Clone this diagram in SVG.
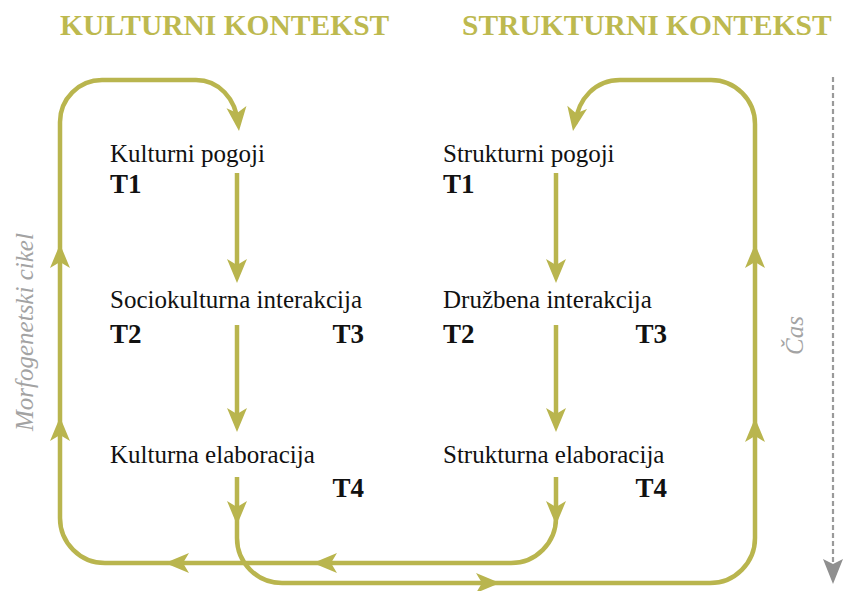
<svg xmlns="http://www.w3.org/2000/svg" xmlns:xlink="http://www.w3.org/1999/xlink" width="843" height="591" viewBox="0 0 843 591">
<style>
.ln{fill:none;stroke:#b9b54e;stroke-width:4.5}
.ah{fill:#b9b54e}
text{font-family:'Liberation Serif',serif}
.hd{font-weight:bold;font-size:29.5px;fill:#bdb94f}
.lb{font-size:25px;fill:#111}
.tt{font-weight:bold;font-size:27px;fill:#111}
.rot{font-style:italic;font-size:25px;fill:#a3a3a3}
</style>
<defs>
<path id="ah" d="M0,0 L-24,-10 L-18,0 L-24,10 Z"/>
</defs>
<rect width="843" height="591" fill="#fff"/>
<g id="headers">
<text class="hd" x="60" y="35">KULTURNI KONTEKST</text>
<text class="hd" x="462" y="35">STRUKTURNI KONTEKST</text>
</g>
<g id="connectors">
<path class="ln" d="M556,477 V518 A45,45 0 0 1 511,563 H105 A45,45 0 0 1 60,518 V122 A42,42 0 0 1 102,80 H196 C218,80 236,98 238,124"/>
<path class="ln" d="M237,477 V538 A45,45 0 0 0 282,583 H710 A45,45 0 0 0 755,538 V124 A44,44 0 0 0 711,80 H620 C596,80 578,98 575,124"/>
<path class="ln" d="M237,173 V268"/>
<path class="ln" d="M237,325 V418"/>
<path class="ln" d="M556,173 V268"/>
<path class="ln" d="M556,325 V418"/>
<g class="ah">
<use xlink:href="#ah" transform="translate(237,283) rotate(90)"/>
<use xlink:href="#ah" transform="translate(237,432) rotate(90)"/>
<use xlink:href="#ah" transform="translate(556,283) rotate(90)"/>
<use xlink:href="#ah" transform="translate(556,432) rotate(90)"/>
<use xlink:href="#ah" transform="translate(237,525) rotate(90)"/>
<use xlink:href="#ah" transform="translate(556,525) rotate(90)"/>
<use xlink:href="#ah" transform="translate(313,563) rotate(180)"/>
<use xlink:href="#ah" transform="translate(165,563) rotate(180)"/>
<use xlink:href="#ah" transform="translate(500,583)"/>
<use xlink:href="#ah" transform="translate(60,244) rotate(-90)"/>
<use xlink:href="#ah" transform="translate(60,417) rotate(-90)"/>
<use xlink:href="#ah" transform="translate(755,244) rotate(-90)"/>
<use xlink:href="#ah" transform="translate(755,418) rotate(-90)"/>
<use xlink:href="#ah" transform="translate(239,131) rotate(84)"/>
<use xlink:href="#ah" transform="translate(573,131) rotate(100)"/>
</g>
</g>
<g id="kulturni-pogoji">
<text class="lb" x="110" y="162">Kulturni pogoji</text>
<text class="tt" x="110" y="193">T1</text>
</g>
<g id="sociokulturna-interakcija">
<text class="lb" x="110" y="308">Sociokulturna interakcija</text>
<text class="tt" x="110" y="343">T2</text>
<text class="tt" x="364" y="343" text-anchor="end">T3</text>
</g>
<g id="kulturna-elaboracija">
<text class="lb" x="110" y="463">Kulturna elaboracija</text>
<text class="tt" x="364" y="497" text-anchor="end">T4</text>
</g>
<g id="strukturni-pogoji">
<text class="lb" x="443" y="162">Strukturni pogoji</text>
<text class="tt" x="443" y="193">T1</text>
</g>
<g id="druzbena-interakcija">
<text class="lb" x="443" y="308">Družbena interakcija</text>
<text class="tt" x="443" y="343">T2</text>
<text class="tt" x="667" y="343" text-anchor="end">T3</text>
</g>
<g id="strukturna-elaboracija">
<text class="lb" x="443" y="463">Strukturna elaboracija</text>
<text class="tt" x="667" y="497" text-anchor="end">T4</text>
</g>
<g id="morfogenetski-cikel">
<text class="rot" transform="translate(33,431) rotate(-90)">Morfogenetski cikel</text>
</g>
<g id="cas">
<line x1="833" y1="77" x2="833" y2="566" stroke="#9a9a9a" stroke-width="2.2" stroke-dasharray="5,3"/>
<path d="M833,584 L823,559 L833,564 L843,559 Z" fill="#8f8f8f"/>
<text class="rot" transform="translate(803,355) rotate(-90)">Čas</text>
</g>
</svg>
